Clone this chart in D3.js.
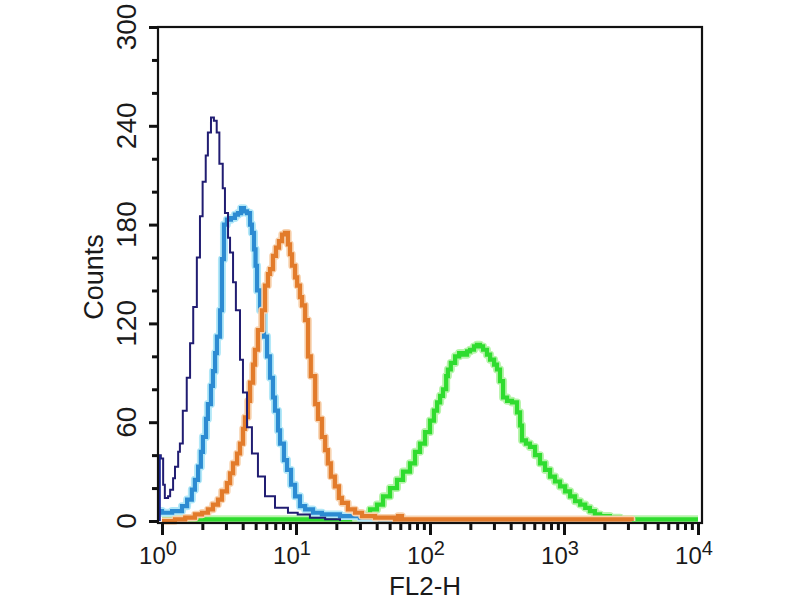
<html>
<head>
<script src="https://d3js.org/d3.v7.min.js"></script>
<style>
  body { margin: 0; background: #fff; }
  svg { display: block; }
  text { font-family: "Liberation Sans", Arial, sans-serif; fill: #1a1a1a; }
</style>
</head>
<body>
<svg id="chart" width="800" height="600"></svg>
<script>
// FL2-H intensity / counts, one array per stain
var navyHist = [[0.93,40],[0.98,38],[1.02,22],[1.05,14],[1.11,15],[1.15,19],[1.21,26],[1.25,33],
  [1.32,42],[1.36,47],[1.43,67],[1.53,87],[1.62,108],[1.71,130],[1.82,160],[1.92,185],[2.01,206],
  [2.12,222],[2.20,236],[2.32,245],[2.44,243],[2.56,236],[2.68,217],[2.84,202],[2.95,187],[3.11,172],
  [3.22,163],[3.39,145],[3.56,128],[3.82,98],[4.02,78],[4.31,57],[4.69,41],[5.20,27],[5.87,15],
  [6.97,8],[8.71,5],[10.3,4],[12.7,2],[16.5,1],[21.3,0]];

var blueHist = [[0.93,6],[1.00,5],[1.19,6],[1.41,9],[1.54,13],[1.67,19],[1.76,25],[1.86,33],[1.95,42],
  [2.02,51],[2.13,62],[2.20,71],[2.32,82],[2.40,91],[2.49,102],[2.57,112],[2.71,128],[2.80,159],
  [2.90,180],[3.05,183],[3.27,184],[3.50,186],[3.69,187],[3.89,190],[4.09,188],[4.31,187],[4.54,180],
  [4.69,175],[4.86,165],[4.99,155],[5.12,140],[5.39,128],[5.77,112],[6.08,100],[6.40,87],[6.73,75],
  [6.97,67],[7.34,55],[7.60,47],[8.13,37],[8.57,31],[9.18,22],[9.84,15],[10.7,9],[11.7,7],[13.4,5],
  [15.6,4],[21.3,3],[30.0,2],[42.4,1],[59.7,0]];

var orangeHist = [[1.00,0],[1.25,1],[1.49,2],[1.76,4],[1.99,5],[2.20,7],[2.40,10],[2.62,13],[2.80,18],
  [3.05,23],[3.22,29],[3.39,35],[3.63,41],[3.82,47],[4.02,56],[4.16,63],[4.38,73],[4.54,84],[4.78,95],
  [4.94,104],[5.20,116],[5.57,128],[5.87,143],[6.18,150],[6.40,153],[6.73,161],[7.09,166],[7.46,170],
  [7.87,174],[8.28,175],[8.71,168],[9.02,162],[9.34,155],[9.84,148],[10.2,143],[10.7,136],[11.1,131],
  [11.7,122],[12.3,100],[12.9,88],[13.9,71],[14.6,62],[15.6,51],[16.5,43],[17.3,35],[18.2,27],
  [19.5,21],[20.9,14],[22.0,11],[24.4,7],[27.6,5],[31.1,3],[38.9,2],[54.8,1],[57.7,3],[61.8,1],
  [2620,1],[3200,0]];

var greenHist = [[1.00,1],[21.3,1],[25.3,2],[30.0,4],[35.7,7],[40.2,10],[44.6,15],[50.3,20],[56.7,25],
  [62.9,30],[70.9,35],[77.3,42],[84.2,47],[91.8,54],[100,61],[107,67],[113,72],[119,76],[125,80],
  [132,88],[136,92],[143,96],[154,100],[165,102],[176,101],[189,103],[199,104],[213,106],[224,107],
  [236,106],[249,104],[266,101],[281,98],[301,95],[316,92],[333,85],[351,75],[376,73],[409,72],
  [446,66],[470,58],[486,49],[520,47],[557,45],[608,40],[662,35],[722,31],[787,27],[857,24],[934,21],
  [1020,18],[1110,15],[1210,12],[1320,10],[1440,8],[1560,6],[1700,4],[1860,3],[2200,2],[2620,1],
  [10000,1]];

var yTicks = [0, 60, 120, 180, 240, 300];
var xDecades = [1, 10, 100, 1000, 10000];
var xExponents = ["0", "1", "2", "3", "4"];
var xTitle = "FL2-H";
var yTitle = "Counts";

var svg = d3.select("#chart");

var x = d3.scaleLog().domain([1, 10000]).range([162, 698]);
var y = d3.scaleLinear().domain([0, 300]).range([521, 27]);

var line = d3.line()
  .x(function(d){ return x(d[0]); })
  .y(function(d){ return y(d[1]); })
  .curve(d3.curveStepAfter);

// histograms: halo first, then the line itself
var series = [
  {data: greenHist,  color: "#2fdc2f", halo: "#b8f4ac", w: 4.2, hw: 8},
  {data: blueHist,   color: "#2c8bd2", halo: "#b2e8f8", w: 4.2, hw: 8},
  {data: orangeHist, color: "#e27b2b", halo: "#f8d3b0", w: 4.2, hw: 7.5},
  {data: navyHist,   color: "#211d72", halo: null,      w: 2, hw: 0}
];

series.forEach(function(s){
  if (s.halo) {
    svg.append("path")
      .attr("d", line(s.data))
      .attr("fill", "none")
      .attr("stroke", s.halo)
      .attr("stroke-width", s.hw)
      .attr("stroke-linejoin", "round");
  }
  svg.append("path")
    .attr("d", line(s.data))
    .attr("fill", "none")
    .attr("stroke", s.color)
    .attr("stroke-width", s.w);
});

// dark spill at the very left edge of the navy trace
svg.append("rect")
  .attr("x", 158).attr("y", y(navyHist[0][1]))
  .attr("width", x(navyHist[1][0]) - 158)
  .attr("height", y(0) - y(navyHist[0][1]))
  .attr("fill", "#1f2a9a");

// frame
svg.append("rect")
  .attr("x", 158).attr("y", 27)
  .attr("width", 544).attr("height", 496)
  .attr("fill", "none")
  .attr("stroke", "#111")
  .attr("stroke-width", 2.2);

// y ticks
var yMinor = y.ticks(20).filter(function(v){ return yTicks.indexOf(v) < 0; });
svg.append("g").attr("transform", "translate(158,0)")
  .call(d3.axisLeft(y).tickValues(yTicks).tickSize(9).tickFormat(""))
  .call(function(g){ g.select(".domain").remove(); })
  .selectAll("line").attr("stroke", "#111").attr("stroke-width", 3);
svg.append("g").attr("transform", "translate(158,0)")
  .call(d3.axisLeft(y).tickValues(yMinor).tickSize(6).tickFormat(""))
  .call(function(g){ g.select(".domain").remove(); })
  .selectAll("line").attr("stroke", "#111").attr("stroke-width", 3);

// x ticks
var xMinor = x.ticks().filter(function(v){ return xDecades.indexOf(v) < 0; });
svg.append("g").attr("transform", "translate(0,523)")
  .call(d3.axisBottom(x).tickValues(xDecades).tickSize(12).tickFormat(""))
  .call(function(g){ g.select(".domain").remove(); })
  .selectAll("line").attr("stroke", "#111").attr("stroke-width", 3);
svg.append("g").attr("transform", "translate(0,523)")
  .call(d3.axisBottom(x).tickValues(xMinor).tickSize(7).tickFormat(""))
  .call(function(g){ g.select(".domain").remove(); })
  .selectAll("line").attr("stroke", "#111").attr("stroke-width", 3);

// y tick labels, rotated
svg.selectAll(".ylab").data(yTicks).enter()
  .append("text")
    .attr("class", "ylab")
    .attr("transform", function(d){ return "translate(136," + y(d) + ") rotate(-90)"; })
    .attr("text-anchor", "middle")
    .style("font-size", "28px")
    .text(function(d){ return d; });

// x tick labels 10^n
var xl = svg.selectAll(".xlab").data(xDecades).enter()
  .append("text")
    .attr("class", "xlab")
    .attr("x", function(d){ return x(d) - 4; })
    .attr("y", 564)
    .attr("text-anchor", "middle")
    .style("font-size", "24px");
xl.append("tspan").text("10");
xl.append("tspan")
  .attr("dy", -9)
  .style("font-size", "20px")
  .text(function(d,i){ return xExponents[i]; });

// axis titles
svg.append("text")
  .attr("x", 425).attr("y", 595)
  .attr("text-anchor", "middle")
  .style("font-size", "26px")
  .text(xTitle);

svg.append("text")
  .attr("transform", "translate(103,277) rotate(-90)")
  .attr("text-anchor", "middle")
  .style("font-size", "27px")
  .text(yTitle);
</script>
</body>
</html>
